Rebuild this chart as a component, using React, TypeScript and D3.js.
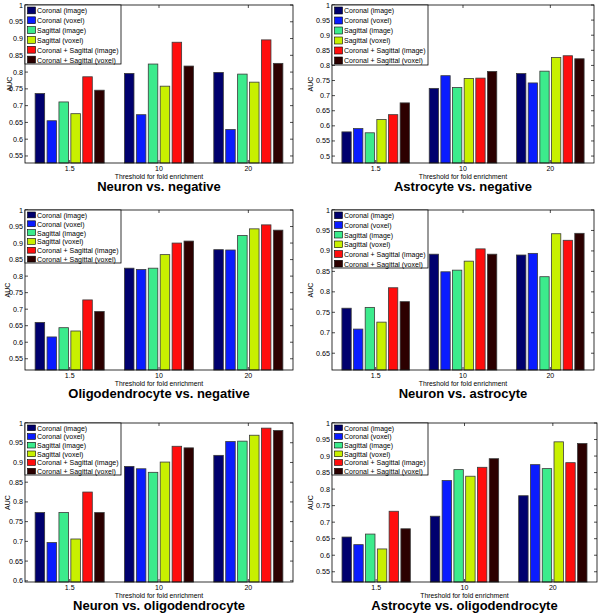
import React from 'react';
import * as d3 from 'd3';

const groups = ['1.5', '10', '20'];
const seriesNames = [
  'Coronal (image)',
  'Coronal (voxel)',
  'Sagittal (image)',
  'Sagittal (voxel)',
  'Coronal + Sagittal (image)',
  'Coronal + Sagittal (voxel)',
];
const seriesColors = ['#00006e', '#0a1cff', '#3ceb8c', '#c8f000', '#ff0d0d', '#2c0000'];

const panelTitles = [
  'Neuron vs. negative',
  'Astrocyte vs. negative',
  'Oligodendrocyte vs. negative',
  'Neuron vs. astrocyte',
  'Neuron vs. oligodendrocyte',
  'Astrocyte vs. oligodendrocyte',
];

// AUC per threshold group, one row per group, one value per series
const neuronVsNegative = [
  [0.736, 0.655, 0.711, 0.676, 0.786, 0.746],
  [0.796, 0.673, 0.824, 0.758, 0.889, 0.818],
  [0.799, 0.629, 0.794, 0.770, 0.896, 0.826],
];
const astrocyteVsNegative = [
  [0.580, 0.591, 0.577, 0.621, 0.637, 0.676],
  [0.724, 0.766, 0.727, 0.757, 0.758, 0.780],
  [0.773, 0.742, 0.781, 0.826, 0.832, 0.822],
];
const oligoVsNegative = [
  [0.660, 0.616, 0.644, 0.634, 0.728, 0.693],
  [0.824, 0.820, 0.824, 0.865, 0.900, 0.906],
  [0.880, 0.879, 0.923, 0.943, 0.955, 0.939],
];
const neuronVsAstrocyte = [
  [0.760, 0.709, 0.762, 0.726, 0.810, 0.776],
  [0.892, 0.849, 0.853, 0.875, 0.905, 0.892],
  [0.890, 0.894, 0.837, 0.942, 0.926, 0.943],
];
const neuronVsOligo = [
  [0.773, 0.697, 0.773, 0.706, 0.825, 0.773],
  [0.890, 0.884, 0.875, 0.901, 0.941, 0.937],
  [0.918, 0.953, 0.954, 0.969, 0.987, 0.981],
];
const astrocyteVsOligo = [
  [0.655, 0.632, 0.664, 0.619, 0.733, 0.680],
  [0.718, 0.826, 0.859, 0.839, 0.866, 0.892],
  [0.780, 0.874, 0.862, 0.943, 0.880, 0.938],
];

const panelData = [
  neuronVsNegative,
  astrocyteVsNegative,
  oligoVsNegative,
  neuronVsAstrocyte,
  neuronVsOligo,
  astrocyteVsOligo,
];

// axes boxes in page pixels
const boxes = [
  { left: 25, right: 293, top: 5, bottom: 163, legH: 59, labelX: 10 },
  { left: 332, right: 594, top: 5, bottom: 163, legH: 60, labelX: 311 },
  { left: 25, right: 293, top: 210, bottom: 370, legH: 53, labelX: 8 },
  { left: 332, right: 594, top: 210, bottom: 370, legH: 58, labelX: 311 },
  { left: 25, right: 293, top: 423, bottom: 582, legH: 52, labelX: 8 },
  { left: 332, right: 597, top: 423, bottom: 582, legH: 52, labelX: 311 },
];

const font = 'Liberation Sans, Arial, Helvetica, sans-serif';

const Panel = ({ data, title, box }) => {
  const vals = data.flat();
  const yMin = (d3.min(vals) as number) - 0.1;

  const x = d3.scaleLinear().domain([0.5, groups.length + 0.5]).range([box.left, box.right]);
  const y = d3.scaleLinear().domain([yMin, 1]).range([box.bottom, box.top]);

  const n = seriesNames.length;
  const groupW = 0.8;
  const pitch = groupW / n;
  const barW = pitch * 0.8;

  const yTicks = y.ticks(10);
  const cx = (box.left + box.right) / 2;
  const cy = (box.top + box.bottom) / 2;
  const tick = 3;

  const legRow = box.legH / n;
  const legW = 96;

  return (
    <g fontFamily={font}>
      {data.map((row, gi) =>
        row.map((v, si) => {
          const c = gi + 1 - groupW / 2 + (si + 0.5) * pitch;
          const x0 = x(c - barW / 2);
          const x1 = x(c + barW / 2);
          return (
            <rect
              key={`${gi}-${si}`}
              x={x0}
              y={y(v)}
              width={x1 - x0}
              height={y(yMin) - y(v)}
              fill={seriesColors[si]}
              stroke="#3a3a3a"
              strokeWidth={0.8}
            />
          );
        })
      )}

      <rect
        x={box.left}
        y={box.top}
        width={box.right - box.left}
        height={box.bottom - box.top}
        fill="none"
        stroke="#000"
        strokeWidth={0.8}
      />

      {yTicks.map((t) => (
        <g key={t}>
          <line x1={box.left} x2={box.left + tick} y1={y(t)} y2={y(t)} stroke="#000" strokeWidth={0.7} />
          <line x1={box.right} x2={box.right - tick} y1={y(t)} y2={y(t)} stroke="#000" strokeWidth={0.7} />
          <text x={box.left - 2} y={y(t)} dy="0.35em" fontSize={7.2} textAnchor="end">
            {String(+t.toFixed(2))}
          </text>
        </g>
      ))}

      {groups.map((g, gi) => (
        <g key={g}>
          <line x1={x(gi + 1)} x2={x(gi + 1)} y1={box.bottom} y2={box.bottom - tick} stroke="#000" strokeWidth={0.7} />
          <line x1={x(gi + 1)} x2={x(gi + 1)} y1={box.top} y2={box.top + tick} stroke="#000" strokeWidth={0.7} />
          <text x={x(gi + 1)} y={box.bottom + 7.5} fontSize={7} textAnchor="middle">
            {g}
          </text>
        </g>
      ))}

      <text x={cx} y={box.bottom + 15.5} fontSize={6.8} textAnchor="middle">
        Threshold for fold enrichment
      </text>
      <text
        transform={`translate(${box.labelX},${cy}) rotate(-90)`}
        fontSize={7}
        textAnchor="middle"
        dy="0.35em"
      >
        AUC
      </text>
      <text x={cx} y={box.bottom + 28} fontSize={13} fontWeight="bold" textAnchor="middle">
        {title}
      </text>

      <g transform={`translate(${box.left},${box.top})`}>
        <rect x={0} y={0} width={legW} height={box.legH} fill="#fff" stroke="#000" strokeWidth={0.8} />
        {seriesNames.map((s, si) => (
          <g key={s} transform={`translate(0,${si * legRow + 1})`}>
            <rect x={2.5} y={1} width={8} height={legRow - 3} fill={seriesColors[si]} stroke="#000" strokeWidth={0.6} />
            <text x={12} y={legRow / 2} dy="0.35em" fontSize={7}>
              {s}
            </text>
          </g>
        ))}
      </g>
    </g>
  );
};

export default function App() {
  return (
    <svg
      width={600}
      height={614}
      style={{ position: 'absolute', left: 0, top: 0, background: '#fff' }}
    >
      <rect width={600} height={614} fill="#fff" />
      {panelData.map((d, i) => (
        <Panel key={i} data={d} title={panelTitles[i]} box={boxes[i]} />
      ))}
    </svg>
  );
}
